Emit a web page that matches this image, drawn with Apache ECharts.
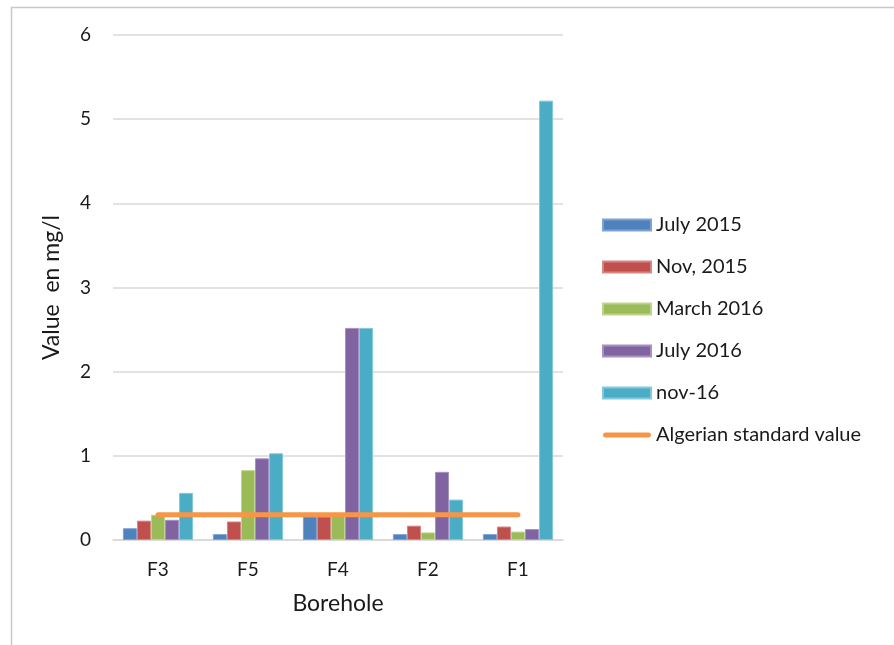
<!DOCTYPE html>
<html><head><meta charset="utf-8">
<script src="https://cdn.jsdelivr.net/npm/echarts@6/dist/echarts.min.js"></script>
<style>html,body{margin:0;padding:0;background:#fff}#c{width:894px;height:645px}</style>
</head><body><div id="c"></div>
<script>
const categories = ['F3', 'F5', 'F4', 'F2', 'F1'];
const seriesNames = ['July 2015', 'Nov, 2015', 'March 2016', 'July 2016', 'nov-16'];
const july2015 = [0.14, 0.07, 0.28, 0.07, 0.07];
const nov2015 = [0.23, 0.22, 0.28, 0.17, 0.16];
const march2016 = [0.30, 0.83, 0.30, 0.09, 0.10];
const july2016 = [0.24, 0.97, 2.52, 0.81, 0.13];
const nov16 = [0.56, 1.03, 2.52, 0.48, 5.22];
const standardName = 'Algerian standard value';
const standard = [0.3, 0.3, 0.3, 0.3, 0.3];
const yTicks = [0, 1, 2, 3, 4, 5, 6];

const colors = ['#4F81BD', '#C0504D', '#9BBB59', '#8064A2', '#4BACC6'];
const borders = ['#7ea3d2', '#d68583', '#bdd48f', '#a890c2', '#84c9db'];
const values = [july2015, nov2015, march2016, july2016, nov16];
const font = 'Lato, "Noto Sans", sans-serif';

const chart = echarts.init(document.getElementById('c'), null, {renderer: 'canvas'});
const series = values.map((v, i) => ({
  name: seriesNames[i], type: 'bar', data: v,
  barGap: '0%', barCategoryGap: '22%',
  itemStyle: {color: colors[i], borderColor: borders[i], borderWidth: 1},
  z: 2
}));
series.push({
  name: standardName, type: 'line', data: standard,
  symbol: 'none', z: 5,
  lineStyle: {color: '#F79646', width: 5, cap: 'round'},
  itemStyle: {color: '#F79646'}
});

chart.setOption({
  animation: false,
  color: colors.concat(['#F79646']),
  graphic: [{type: 'rect', shape: {x: 11.5, y: 7.5, width: 1000, height: 1000},
    style: {fill: 'none', stroke: '#c8c8c8', lineWidth: 1.5}, silent: true, z: -1}],
  grid: {left: 113, right: 331, top: 35, bottom: 105},
  legend: {
    orient: 'vertical', left: 597, top: 210, itemGap: 22, itemWidth: 48, itemHeight: 11,
    textStyle: {fontFamily: font, fontSize: 20, color: '#1a1a1a', padding: [0, 0, 0, 0]},
    data: seriesNames.map(n => ({name: n, icon: 'rect'})).concat([{
      name: standardName,
      icon: 'path://M2.5,0 H45.5 A2.5,2.5 0 0 1 45.5,5 H2.5 A2.5,2.5 0 0 1 2.5,0 Z',
      symbolKeepAspect: true
    }])
  },
  xAxis: {
    type: 'category', data: categories,
    axisLine: {lineStyle: {color: '#d9d9d9', width: 1.5}},
    axisTick: {show: false},
    axisLabel: {fontFamily: font, fontSize: 19, color: '#1a1a1a', margin: 20},
    name: 'Borehole', nameLocation: 'middle', nameGap: 52,
    nameTextStyle: {fontFamily: font, fontSize: 23, color: '#1a1a1a'}
  },
  yAxis: {
    type: 'value', min: yTicks[0], max: yTicks[yTicks.length - 1], interval: 1,
    axisLine: {show: false}, axisTick: {show: false},
    splitLine: {lineStyle: {color: '#d9d9d9', width: 1.5}},
    axisLabel: {fontFamily: font, fontSize: 19, color: '#1a1a1a', margin: 22},
    name: 'Value  en mg/l', nameLocation: 'middle', nameGap: 50, nameRotate: 90,
    nameTextStyle: {fontFamily: font, fontSize: 23, color: '#1a1a1a'}
  },
  series: series
});
</script></body></html>
